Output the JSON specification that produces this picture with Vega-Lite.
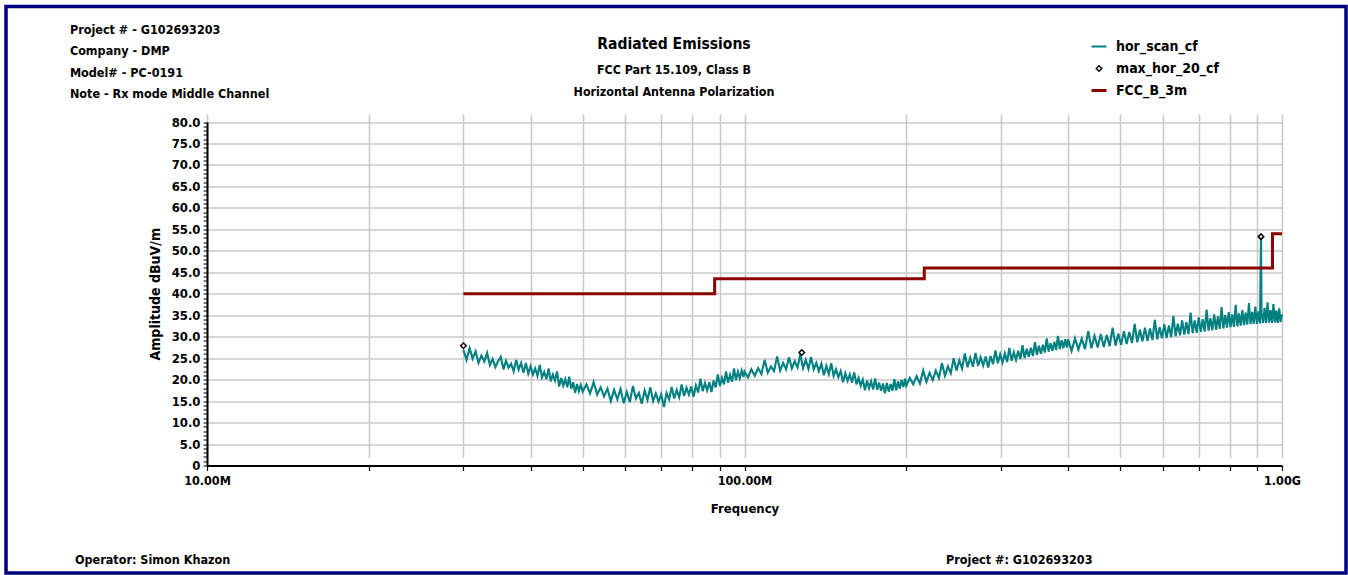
{
  "$schema": "https://vega.github.io/schema/vega-lite/v6.json",
  "width": 1340,
  "height": 566.5,
  "autosize": {"type": "none"},
  "padding": {"left": 6, "top": 6.5, "right": 2, "bottom": 2},
  "background": "white",
  "title": {
    "text": "Radiated Emissions",
    "subtitle": ["FCC Part 15.109, Class B", "Horizontal Antenna Polarization"],
    "anchor": "middle",
    "frame": "group",
    "offset": -91.5,
    "dx": -2,
    "fontSize": 15.5,
    "fontWeight": "bold",
    "color": "#000000",
    "subtitleFontSize": 12.4,
    "subtitleFontWeight": "bold",
    "subtitleColor": "#000000",
    "subtitlePadding": 11,
    "subtitleLineHeight": 22
  },
  "config": {
    "font": "'DejaVu Sans Condensed', 'Liberation Sans', sans-serif",
    "view": {"stroke": "#000080", "strokeWidth": 3.5},
    "axisX": {
      "labelOverlap": false,
      "labelBound": false,
      "labelFlush": false,
      "labelFontSize": 12.5,
      "labelFontWeight": "bold",
      "labelColor": "#000000",
      "labelPadding": 4,
      "tickSize": 5,
      "tickColor": "#000000",
      "tickWidth": 1.2,
      "domainColor": "#000000",
      "domainWidth": 2,
      "grid": true,
      "gridColor": "#c8c8c8",
      "gridWidth": 1.5,
      "titleFontSize": 13,
      "titleFontWeight": "bold",
      "titleColor": "#000000",
      "titlePadding": 15
    },
    "axisY": {
      "labelOverlap": false,
      "labelBound": false,
      "labelFlush": false,
      "labelFontSize": 13,
      "labelFontWeight": "bold",
      "labelColor": "#000000",
      "labelPadding": 3,
      "tickSize": 4,
      "tickColor": "#000000",
      "tickWidth": 1,
      "domainColor": "#000000",
      "domainWidth": 2,
      "grid": true,
      "gridColor": "#c8c8c8",
      "gridWidth": 1.5,
      "titleFontSize": 14,
      "titleFontWeight": "bold",
      "titleColor": "#000000",
      "titlePadding": 9
    }
  },
  "datasets": {
    "scan": [
      {"f":30.0,"a":26.9},{"f":30.4,"a":24.6},{"f":30.8,"a":27.3},{"f":31.2,"a":24.9},{"f":31.6,"a":26.6},{"f":32.0,"a":23.9},{"f":32.4,"a":25.6},{"f":32.8,"a":24.2},{"f":33.2,"a":26.2},{"f":33.6,"a":23.4},
      {"f":34.0,"a":24.8},{"f":34.4,"a":22.9},{"f":34.8,"a":24.3},{"f":35.2,"a":25.3},{"f":35.6,"a":22.4},{"f":36.0,"a":24.4},{"f":36.4,"a":22.8},{"f":36.8,"a":23.7},{"f":37.2,"a":21.9},{"f":37.6,"a":24.6},
      {"f":38.0,"a":22.3},{"f":38.4,"a":23.9},{"f":38.8,"a":21.6},{"f":39.2,"a":23.9},{"f":39.6,"a":21.4},{"f":40.0,"a":23.1},{"f":40.4,"a":21.2},{"f":40.8,"a":22.6},{"f":41.2,"a":20.9},{"f":41.6,"a":23.4},
      {"f":42.0,"a":20.5},{"f":42.4,"a":21.8},{"f":42.8,"a":20.1},{"f":43.2,"a":22.6},{"f":43.6,"a":19.6},{"f":44.0,"a":21.2},{"f":44.4,"a":19.8},{"f":44.8,"a":21.9},{"f":45.2,"a":18.4},{"f":45.6,"a":20.4},
      {"f":46.0,"a":18.6},{"f":46.4,"a":20.1},{"f":46.8,"a":18.2},{"f":47.2,"a":20.7},{"f":47.6,"a":17.9},{"f":48.0,"a":19.4},{"f":48.4,"a":16.9},{"f":48.8,"a":19.0},{"f":49.2,"a":17.3},{"f":49.6,"a":18.8},
      {"f":50.0,"a":17.2},{"f":50.8,"a":18.9},{"f":51.6,"a":16.8},{"f":52.4,"a":19.4},{"f":53.2,"a":16.5},{"f":54.0,"a":18.2},{"f":54.8,"a":16.1},{"f":55.6,"a":17.9},{"f":56.4,"a":15.0},{"f":57.2,"a":17.6},
      {"f":58.0,"a":15.4},{"f":58.8,"a":17.8},{"f":59.6,"a":14.5},{"f":60.4,"a":17.1},{"f":61.2,"a":14.8},{"f":62.0,"a":18.5},{"f":62.8,"a":15.6},{"f":63.6,"a":16.9},{"f":64.4,"a":14.4},{"f":65.2,"a":17.5},
      {"f":66.0,"a":15.3},{"f":66.8,"a":18.2},{"f":67.6,"a":15.0},{"f":68.4,"a":16.8},{"f":69.2,"a":14.9},{"f":70.0,"a":16.6},{"f":70.8,"a":13.6},{"f":71.6,"a":16.9},{"f":72.4,"a":15.4},{"f":73.2,"a":18.3},
      {"f":74.0,"a":15.6},{"f":74.8,"a":17.6},{"f":75.6,"a":15.9},{"f":76.4,"a":18.9},{"f":77.2,"a":16.2},{"f":78.0,"a":18.1},{"f":78.8,"a":16.5},{"f":79.6,"a":18.4},{"f":80.4,"a":16.0},{"f":81.2,"a":18.6},
      {"f":82.0,"a":17.0},{"f":82.8,"a":20.2},{"f":83.6,"a":17.3},{"f":84.4,"a":19.2},{"f":85.2,"a":17.5},{"f":86.0,"a":19.4},{"f":86.8,"a":17.1},{"f":87.6,"a":19.8},{"f":88.4,"a":18.2},{"f":89.2,"a":21.2},
      {"f":90.0,"a":18.5},{"f":90.8,"a":20.4},{"f":91.6,"a":18.9},{"f":92.4,"a":21.9},{"f":93.2,"a":19.3},{"f":94.0,"a":21.1},{"f":94.8,"a":19.5},{"f":95.6,"a":22.6},{"f":96.4,"a":19.9},{"f":97.2,"a":21.8},
      {"f":98.0,"a":20.3},{"f":98.8,"a":22.1},{"f":99.6,"a":20.6},
      {"f":100.0,"a":21.9},{"f":101.5,"a":20.5},{"f":103.0,"a":22.4},{"f":104.5,"a":20.9},{"f":106.0,"a":22.7},{"f":107.5,"a":21.3},{"f":109.0,"a":24.6},{"f":110.5,"a":21.6},{"f":112.0,"a":23.1},{"f":113.5,"a":22.0},
      {"f":115.0,"a":25.4},{"f":116.5,"a":22.1},{"f":118.0,"a":23.9},{"f":119.5,"a":22.4},{"f":121.0,"a":25.2},{"f":122.5,"a":22.6},{"f":124.0,"a":24.3},{"f":125.5,"a":22.8},{"f":127.0,"a":25.9},{"f":128.5,"a":22.7},
      {"f":130.0,"a":24.6},{"f":131.5,"a":22.5},{"f":133.0,"a":25.3},{"f":134.5,"a":22.4},{"f":136.0,"a":23.9},{"f":137.5,"a":22.0},{"f":139.0,"a":23.7},{"f":140.5,"a":21.0},{"f":142.0,"a":23.2},{"f":143.5,"a":21.3},
      {"f":145.0,"a":23.8},{"f":146.5,"a":20.9},{"f":148.0,"a":22.4},{"f":149.5,"a":20.6},{"f":151.0,"a":22.0},{"f":152.5,"a":19.4},{"f":154.0,"a":21.5},{"f":155.5,"a":19.7},{"f":157.0,"a":21.2},{"f":158.5,"a":19.3},
      {"f":160.0,"a":21.7},{"f":161.5,"a":18.9},{"f":163.0,"a":20.4},{"f":164.5,"a":18.6},{"f":166.0,"a":20.0},{"f":167.5,"a":17.5},{"f":169.0,"a":19.8},{"f":170.5,"a":18.0},{"f":172.0,"a":19.6},{"f":173.5,"a":17.7},
      {"f":175.0,"a":20.3},{"f":176.5,"a":17.6},{"f":178.0,"a":19.3},{"f":179.5,"a":17.4},{"f":181.0,"a":19.1},{"f":182.5,"a":16.8},{"f":184.0,"a":19.2},{"f":185.5,"a":17.2},{"f":187.0,"a":19.0},{"f":188.5,"a":17.4},
      {"f":190.0,"a":20.1},{"f":191.5,"a":17.5},{"f":193.0,"a":19.6},{"f":194.5,"a":17.9},{"f":196.0,"a":19.9},{"f":197.5,"a":18.3},{"f":199.0,"a":20.2},
      {"f":200,"a":18.6},{"f":203,"a":20.4},{"f":206,"a":18.9},{"f":209,"a":20.8},{"f":212,"a":19.1},{"f":215,"a":22.1},{"f":218,"a":19.5},{"f":221,"a":21.6},{"f":224,"a":19.9},{"f":227,"a":22.1},
      {"f":230,"a":20.4},{"f":233,"a":23.8},{"f":236,"a":20.9},{"f":239,"a":23.1},{"f":242,"a":21.5},{"f":245,"a":25.0},{"f":248,"a":22.1},{"f":251,"a":24.5},{"f":254,"a":22.6},{"f":257,"a":26.1},
      {"f":260,"a":22.9},{"f":263,"a":25.1},{"f":266,"a":23.0},{"f":269,"a":26.2},{"f":272,"a":23.2},{"f":275,"a":25.2},{"f":278,"a":23.3},{"f":281,"a":25.4},{"f":284,"a":22.8},{"f":287,"a":25.5},
      {"f":290,"a":23.6},{"f":293,"a":26.8},{"f":296,"a":23.8},{"f":299,"a":25.9},{"f":302,"a":24.0},{"f":305,"a":26.1},{"f":308,"a":24.1},{"f":311,"a":27.4},{"f":314,"a":24.4},{"f":317,"a":26.4},
      {"f":320,"a":24.6},{"f":323,"a":26.7},{"f":326,"a":24.8},{"f":329,"a":28.0},{"f":332,"a":25.0},{"f":335,"a":27.2},{"f":338,"a":25.3},{"f":341,"a":27.4},{"f":344,"a":25.5},{"f":347,"a":28.7},
      {"f":350,"a":25.8},{"f":353,"a":27.9},{"f":356,"a":26.0},{"f":359,"a":28.1},{"f":362,"a":26.3},{"f":365,"a":29.6},{"f":368,"a":26.5},{"f":371,"a":28.5},{"f":374,"a":26.7},{"f":377,"a":28.8},
      {"f":380,"a":26.9},{"f":383,"a":30.2},{"f":386,"a":27.1},{"f":389,"a":29.2},{"f":392,"a":27.3},{"f":395,"a":29.4},{"f":398,"a":27.5},
      {"f":400,"a":29.4},{"f":406,"a":26.7},{"f":412,"a":29.6},{"f":418,"a":27.0},{"f":424,"a":29.5},{"f":430,"a":27.1},{"f":436,"a":31.3},{"f":442,"a":27.3},{"f":448,"a":30.2},{"f":454,"a":27.5},
      {"f":460,"a":30.6},{"f":466,"a":27.6},{"f":472,"a":30.4},{"f":478,"a":27.8},{"f":484,"a":32.1},{"f":490,"a":27.9},{"f":496,"a":30.7},{"f":502,"a":28.1},{"f":508,"a":31.3},{"f":514,"a":28.3},
      {"f":520,"a":31.1},{"f":526,"a":28.5},{"f":532,"a":33.0},{"f":538,"a":28.7},{"f":544,"a":31.6},{"f":550,"a":28.9},{"f":556,"a":32.1},{"f":562,"a":29.0},{"f":568,"a":31.9},{"f":574,"a":29.2},
      {"f":580,"a":33.9},{"f":586,"a":29.4},{"f":592,"a":32.2},{"f":598,"a":29.6},{"f":604,"a":32.9},{"f":610,"a":29.7},{"f":616,"a":32.6},{"f":622,"a":29.9},{"f":628,"a":34.8},{"f":634,"a":30.1},
      {"f":640,"a":33.0},{"f":646,"a":30.3},{"f":652,"a":33.8},{"f":658,"a":30.5},{"f":664,"a":33.4},{"f":670,"a":30.6},{"f":676,"a":35.6},{"f":682,"a":30.8},{"f":688,"a":33.8},{"f":694,"a":30.9},
      {"f":700,"a":34.5},{"f":706,"a":31.1},{"f":712,"a":34.1},{"f":718,"a":31.2},{"f":724,"a":36.3},{"f":730,"a":31.4},{"f":736,"a":34.3},{"f":742,"a":31.5},{"f":748,"a":35.2},{"f":754,"a":31.6},
      {"f":760,"a":34.7},{"f":766,"a":31.8},{"f":772,"a":36.9},{"f":778,"a":31.9},{"f":784,"a":35.0},{"f":790,"a":32.1},{"f":796,"a":35.7},{"f":802,"a":32.2},{"f":808,"a":35.2},{"f":814,"a":32.3},
      {"f":820,"a":37.4},{"f":826,"a":32.4},{"f":832,"a":35.4},{"f":838,"a":32.6},{"f":844,"a":36.2},{"f":850,"a":32.7},{"f":856,"a":35.6},{"f":862,"a":32.8},{"f":868,"a":37.8},{"f":874,"a":32.9},
      {"f":880,"a":35.8},{"f":886,"a":33.0},{"f":892,"a":37.0},{"f":898,"a":33.0},{"f":904,"a":35.9},{"f":910,"a":33.1},{"f":914,"a":53.3},{"f":916,"a":35.4},{"f":922,"a":33.2},{"f":928,"a":36.7},
      {"f":934,"a":33.2},{"f":940,"a":38.0},{"f":946,"a":33.3},{"f":952,"a":36.2},{"f":958,"a":33.2},{"f":964,"a":37.6},{"f":970,"a":33.3},{"f":976,"a":36.1},{"f":982,"a":33.2},{"f":988,"a":36.6},
      {"f":994,"a":33.4},{"f":1000,"a":35.2}
    ],
    "maxpts": [
      {"f":30.0,"a":27.9},
      {"f":127.8,"a":26.3},
      {"f":914,"a":53.3}
    ],
    "limit": [
      {"f":30,"a":40},
      {"f":88,"a":43.5},
      {"f":216,"a":46},
      {"f":960,"a":54},
      {"f":1000,"a":54}
    ]
  },
  "layer": [
    {
      "encoding": {
        "x": {
          "field": "f",
          "type": "quantitative",
          "title": "Frequency",
          "scale": {"type": "log", "domain": [10, 1000], "range": [201, 1276], "nice": false},
          "axis": {
            "orient": "bottom",
            "offset": -107.5,
            "values": [10,20,30,40,50,60,70,80,90,100,200,300,400,500,600,700,800,900,1000],
            "labelExpr": "datum.value == 10 ? '10.00M' : datum.value == 100 ? '100.00M' : datum.value == 1000 ? '1.00G' : ''",
            "encode": {
              "ticks": {
                "update": {
                  "y": {"signal": "indexof([10,100,1000], datum.value) >= 0 ? -8 : -4"},
                  "y2": {"signal": "indexof([10,100,1000], datum.value) >= 0 ? 9 : 5"}
                }
              }
            }
          }
        },
        "y": {
          "field": "a",
          "type": "quantitative",
          "title": "Amplitude dBuV/m",
          "scale": {"domain": [0, 80], "range": [459, 115.5], "nice": false, "zero": false},
          "axis": {
            "orient": "left",
            "offset": -201,
            "values": [0,1,2,3,4,5,6,7,8,9,10,11,12,13,14,15,16,17,18,19,20,21,22,23,24,25,26,27,28,29,30,31,32,33,34,35,36,37,38,39,40,41,42,43,44,45,46,47,48,49,50,51,52,53,54,55,56,57,58,59,60,61,62,63,64,65,66,67,68,69,70,71,72,73,74,75,76,77,78,79,80],
            "labelExpr": "datum.value % 5 != 0 ? '' : datum.value == 0 ? '0' : format(datum.value, '.1f')",
            "gridOpacity": {"condition": {"test": "datum.value % 5 != 0", "value": 0}, "value": 1},
            "encode": {
              "ticks": {
                "update": {
                  "x": {"value": 4}
                }
              }
            }
          }
        }
      },
      "layer": [
        {
          "data": {"name": "scan"},
          "mark": {"type": "line", "strokeWidth": 2.1},
          "encoding": {
            "color": {
              "datum": "hor_scan_cf",
              "type": "nominal",
              "scale": {"domain": ["hor_scan_cf", "max_hor_20_cf", "FCC_B_3m"], "range": ["#008080", "#000000", "#8b0000"]},
              "legend": {
                "orient": "none",
                "legendX": 1086,
                "legendY": 33,
                "title": null,
                "padding": 0,
                "symbolType": "stroke",
                "symbolSize": 225,
                "symbolStrokeWidth": 2,
                "labelFontSize": 14,
                "labelFontWeight": "bold",
                "labelColor": "#000000",
                "labelOffset": 10,
                "rowPadding": 8,
                "encode": {
                  "symbols": {
                    "update": {
                      "shape": {"signal": "datum.value === 'max_hor_20_cf' ? 'diamond' : 'stroke'"},
                      "size": {"signal": "datum.value === 'max_hor_20_cf' ? 30 : 225"},
                      "strokeWidth": {"signal": "datum.value === 'FCC_B_3m' ? 3 : datum.value === 'hor_scan_cf' ? 2 : 1.5"},
                      "stroke": {"signal": "datum.value === 'hor_scan_cf' ? '#008080' : datum.value === 'FCC_B_3m' ? '#8b0000' : '#000000'"},
                      "fill": {"signal": "datum.value === 'max_hor_20_cf' ? '#ffffff' : 'transparent'"},
                      "opacity": {"value": 1}
                    }
                  }
                }
              }
            }
          }
        },
        {
          "data": {"name": "limit"},
          "mark": {"type": "line", "strokeWidth": 3, "interpolate": "step-after"},
          "encoding": {
            "color": {"datum": "FCC_B_3m", "type": "nominal"}
          }
        },
        {
          "data": {"name": "maxpts"},
          "mark": {"type": "point", "shape": "diamond", "filled": false, "fill": "#ffffff", "fillOpacity": 1, "size": 30, "strokeWidth": 1.5, "opacity": 1},
          "encoding": {
            "color": {"datum": "max_hor_20_cf", "type": "nominal"}
          }
        }
      ]
    },
    {
      "data": {"values": [{}]},
      "mark": {
        "type": "text",
        "align": "left",
        "baseline": "top",
        "fontSize": 12.5,
        "fontWeight": "bold",
        "color": "#000000",
        "lineHeight": 21.3,
        "text": ["Project # - G102693203", "Company - DMP", "Model# - PC-0191", "Note - Rx mode Middle Channel"]
      },
      "encoding": {
        "x": {"datum": 5.558, "type": "quantitative", "title": "Frequency", "axis": {"orient": "bottom", "offset": -107.5, "values": [10,20,30,40,50,60,70,80,90,100,200,300,400,500,600,700,800,900,1000], "labelExpr": "datum.value == 10 ? '10.00M' : datum.value == 100 ? '100.00M' : datum.value == 1000 ? '1.00G' : ''"}},
        "y": {"datum": 102.8, "type": "quantitative", "title": "Amplitude dBuV/m", "axis": {"orient": "left", "offset": -201, "values": [0,1,2,3,4,5,6,7,8,9,10,11,12,13,14,15,16,17,18,19,20,21,22,23,24,25,26,27,28,29,30,31,32,33,34,35,36,37,38,39,40,41,42,43,44,45,46,47,48,49,50,51,52,53,54,55,56,57,58,59,60,61,62,63,64,65,66,67,68,69,70,71,72,73,74,75,76,77,78,79,80], "labelExpr": "datum.value % 5 != 0 ? '' : datum.value == 0 ? '0' : format(datum.value, '.1f')"}}
      }
    },
    {
      "data": {"values": [{}]},
      "mark": {"type": "text", "align": "left", "baseline": "middle", "fontSize": 12.5, "fontWeight": "bold", "color": "#000000", "text": "Operator: Simon Khazon"},
      "encoding": {
        "x": {"datum": 5.679, "type": "quantitative", "title": "Frequency", "axis": {"orient": "bottom", "offset": -107.5, "values": [10,20,30,40,50,60,70,80,90,100,200,300,400,500,600,700,800,900,1000], "labelExpr": "datum.value == 10 ? '10.00M' : datum.value == 100 ? '100.00M' : datum.value == 1000 ? '1.00G' : ''"}},
        "y": {"datum": -22.0, "type": "quantitative", "title": "Amplitude dBuV/m", "axis": {"orient": "left", "offset": -201, "values": [0,1,2,3,4,5,6,7,8,9,10,11,12,13,14,15,16,17,18,19,20,21,22,23,24,25,26,27,28,29,30,31,32,33,34,35,36,37,38,39,40,41,42,43,44,45,46,47,48,49,50,51,52,53,54,55,56,57,58,59,60,61,62,63,64,65,66,67,68,69,70,71,72,73,74,75,76,77,78,79,80], "labelExpr": "datum.value % 5 != 0 ? '' : datum.value == 0 ? '0' : format(datum.value, '.1f')"}}
      }
    },
    {
      "data": {"values": [{}]},
      "mark": {"type": "text", "align": "left", "baseline": "middle", "fontSize": 12.5, "fontWeight": "bold", "color": "#000000", "text": "Project #: G102693203"},
      "encoding": {
        "x": {"datum": 237.1, "type": "quantitative", "title": "Frequency", "axis": {"orient": "bottom", "offset": -107.5, "values": [10,20,30,40,50,60,70,80,90,100,200,300,400,500,600,700,800,900,1000], "labelExpr": "datum.value == 10 ? '10.00M' : datum.value == 100 ? '100.00M' : datum.value == 1000 ? '1.00G' : ''"}},
        "y": {"datum": -22.0, "type": "quantitative", "title": "Amplitude dBuV/m", "axis": {"orient": "left", "offset": -201, "values": [0,1,2,3,4,5,6,7,8,9,10,11,12,13,14,15,16,17,18,19,20,21,22,23,24,25,26,27,28,29,30,31,32,33,34,35,36,37,38,39,40,41,42,43,44,45,46,47,48,49,50,51,52,53,54,55,56,57,58,59,60,61,62,63,64,65,66,67,68,69,70,71,72,73,74,75,76,77,78,79,80], "labelExpr": "datum.value % 5 != 0 ? '' : datum.value == 0 ? '0' : format(datum.value, '.1f')"}}
      }
    }
  ]
}
